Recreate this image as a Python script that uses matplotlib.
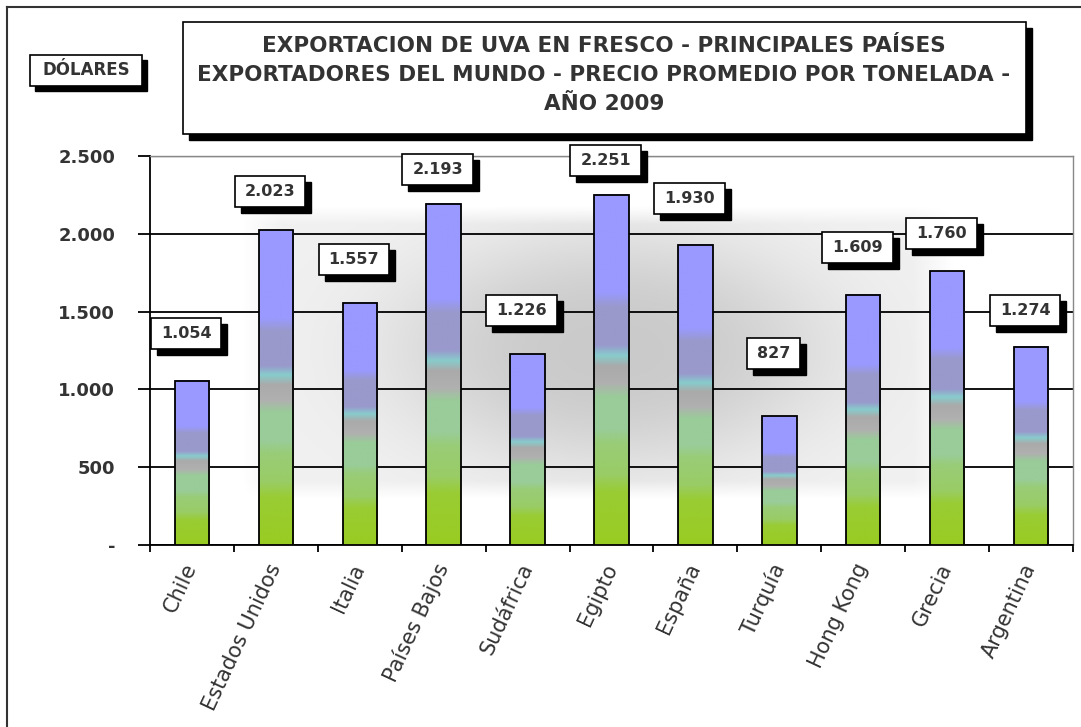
import numpy as np
import matplotlib.pyplot as plt
from matplotlib.colors import LinearSegmentedColormap
from matplotlib.patches import Rectangle
from matplotlib.transforms import IdentityTransform

paises = ["Chile", "Estados Unidos", "Italia", "Países Bajos", "Sudáfrica", "Egipto",
          "España", "Turquía", "Hong Kong", "Grecia", "Argentina"]
precio = [1054, 2023, 1557, 2193, 1226, 2251, 1930, 827, 1609, 1760, 1274]
y_ticks = [0, 500, 1000, 1500, 2000, 2500]
y_labels = ["-", "500", "1.000", "1.500", "2.000", "2.500"]
titulo = ["EXPORTACION DE UVA EN FRESCO - PRINCIPALES PAÍSES",
          "EXPORTADORES DEL MUNDO - PRECIO PROMEDIO POR TONELADA -",
          "AÑO 2009"]

# how far each value box sits above its bar (in dollars), as placed in the original
desplaz_etiqueta = [308, 252, 281, 223, 284, 217, 300, 401, 300, 239, 230]

W, H = 1081, 727
TXT = "#333333"
fig = plt.figure(figsize=(W / 100, H / 100), dpi=100)
ax = fig.add_axes([150 / W, 1 - 545 / H, (1073 - 150) / W, (545 - 156) / H])

# soft grey shading behind the bars (light outer area, darker core)
x0, x1, y0, y1 = 0.57, 9.1, 290, 2185
gx = np.linspace(x0, x1, 500)[None, :]
gy = np.linspace(y0, y1, 300)[:, None]


def meseta(t, lo, hi, e):
    return np.clip(np.minimum(t - lo, hi - t) / e, 0, 1)


borde = meseta(gx, x0, x1, 0.5) * meseta(gy, y0, y1, 120)
nucleo = np.exp(-(((gx - 5.0) / 2.6) ** 2 + ((gy - 1250) / 750) ** 2) ** 1.5)
oscuro = borde * (0.06 + 0.15 * nucleo)
fondo = np.zeros((300, 500, 4))
fondo[..., 3] = oscuro
ax.imshow(fondo, extent=(x0, x1, y0, y1), origin="lower", aspect="auto", zorder=0)

# bars with the banded green -> blue gradient
cmap = LinearSegmentedColormap.from_list("uva", [
    (0.00, "#99cc22"), (0.15, "#99cc33"), (0.20, "#99cc66"), (0.29, "#99cc77"),
    (0.33, "#99cc99"), (0.42, "#99cc99"), (0.46, "#b0b0b0"), (0.51, "#aaaaaa"),
    (0.54, "#88cccc"), (0.57, "#9999cc"), (0.68, "#9999cc"), (0.72, "#9999ff"),
    (1.00, "#9999ff")])
grad = np.linspace(0, 1, 256).reshape(-1, 1)
ancho = 0.41
for i, v in enumerate(precio):
    ax.imshow(grad, extent=(i - ancho / 2, i + ancho / 2, 0, v), origin="lower",
              cmap=cmap, aspect="auto", zorder=3, interpolation="bilinear")
    ax.add_patch(Rectangle((i - ancho / 2, 0), ancho, v, fill=False, ec="black",
                           lw=1.3, zorder=4))

ax.set_xlim(-0.5, len(paises) - 0.5)
ax.set_ylim(0, 2500)

ax.set_yticks(y_ticks)
ax.set_yticklabels(y_labels, fontsize=13, fontweight="bold", color=TXT)
ax.tick_params(axis="y", direction="out", length=9, width=1.3, pad=16)
ax.set_axisbelow(True)
ax.yaxis.grid(True, color="black", lw=1.3)
ax.get_ygridlines()[-1].set_color("#888888")
ax.get_ygridlines()[-1].set_linewidth(1)

ax.set_xticks(range(len(paises)))
ax.set_xticklabels(paises, fontsize=15, color=TXT, rotation=65, ha="right",
                   va="center", rotation_mode="anchor")
ax.set_xticks(np.arange(-0.5, len(paises)), minor=True)
ax.tick_params(axis="x", which="major", length=0, pad=14)
ax.tick_params(axis="x", which="minor", direction="out", length=5, width=1.3)

for s in ["left", "bottom"]:
    ax.spines[s].set_color("black")
    ax.spines[s].set_linewidth(1.3)
for s in ["top", "right"]:
    ax.spines[s].set_color("#888888")
    ax.spines[s].set_linewidth(1)


def caja(x0, y0, x1, y1, sombra):
    # box given in pixel coordinates measured from the top-left corner
    fig.add_artist(Rectangle((x0 + sombra, H - y1 - sombra), x1 - x0, y1 - y0,
                             transform=IdentityTransform(), fc="black", ec="black", lw=1))
    fig.add_artist(Rectangle((x0, H - y1), x1 - x0, y1 - y0,
                             transform=IdentityTransform(), fc="white", ec="black", lw=1.2))


# title box
caja(183, 22, 1026, 134, 6)
for k, linea in enumerate(titulo):
    fig.text(604 / W, 1 - (46 + 29 * k) / H, linea, ha="center", va="center",
             fontsize=15.5, fontweight="bold", color=TXT)

# units box
caja(30, 55, 142, 86, 5)
fig.text(86 / W, 1 - 70 / H, "DÓLARES", ha="center", va="center",
         fontsize=12, fontweight="bold", color=TXT)

# value boxes over each bar, sized to their text
fig.canvas.draw()
renderer = fig.canvas.get_renderer()
for i, v in enumerate(precio):
    px, py = ax.transData.transform((i - 0.07, v + desplaz_etiqueta[i]))
    cx, cy = px, H - py
    t = fig.text(cx / W, 1 - cy / H, f"{v:,}".replace(",", "."), ha="center",
                 va="center", fontsize=11.5, fontweight="bold", color=TXT, zorder=5)
    tw = t.get_window_extent(renderer).width
    caja(cx - tw / 2 - 10, cy - 15.5, cx + tw / 2 + 10, cy + 15.5, 6)

# outer frame
fig.add_artist(plt.Line2D([7 / W, 7 / W], [0, 1 - 7 / H], color="#333333", lw=1.5))
fig.add_artist(plt.Line2D([7 / W, 1], [1 - 7 / H, 1 - 7 / H], color="#333333", lw=1.5))

fig.savefig("out.png", dpi=100)
